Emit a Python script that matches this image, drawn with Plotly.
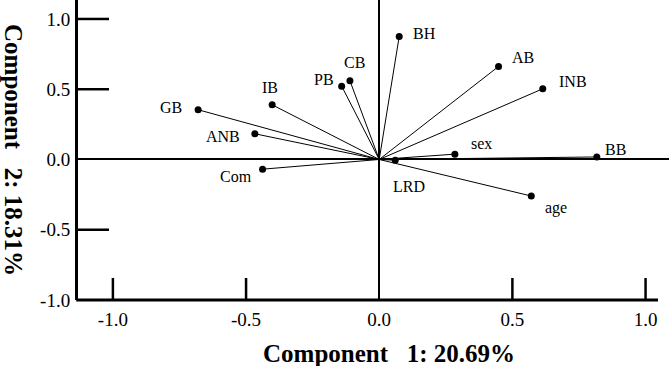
import plotly.graph_objects as go

# Loadings
variables = ["GB", "IB", "ANB", "Com", "PB", "CB", "BH", "AB", "INB", "sex", "BB", "LRD", "age"]
comp1 = [-0.680, -0.402, -0.467, -0.438, -0.141, -0.110, 0.075, 0.448, 0.614, 0.284, 0.817, 0.060, 0.571]
comp2 = [0.354, 0.389, 0.183, -0.069, 0.522, 0.560, 0.875, 0.662, 0.503, 0.038, 0.018, -0.005, -0.260]

# label offsets in pixels (style only)
label_dx = [-27, -2, -32, -27, -18, 5, 25, 24, 30, 27, 19, 14, 25]
label_dy = [-2, -17, 3, 7, -7, -18, -3, -9, -7, -11, -7, 26, 12]

tick_vals = [-1.0, -0.5, 0.0, 0.5, 1.0]
tick_text = ["-1.0", "-0.5", "0.0", "0.5", "1.0"]
x_title = "Component   1: 20.69%"
y_title = "Component   2: 18.31%"

SERIF = "Liberation Serif, Times New Roman, serif"

W, H = 669, 366
ML, MR, MT, MB = 78, 0, 0, 66
PW, PH = W - ML - MR, H - MT - MB

line_x, line_y = [], []
for a, b in zip(comp1, comp2):
    line_x += [0, a, None]
    line_y += [0, b, None]

fig = go.Figure()
fig.add_trace(go.Scatter(x=line_x, y=line_y, mode="lines",
                         line=dict(color="black", width=1), hoverinfo="skip", showlegend=False))
fig.add_trace(go.Scatter(x=comp1, y=comp2, mode="markers",
                         marker=dict(color="black", size=7), showlegend=False))

annotations = []
for name, a, b, dx, dy in zip(variables, comp1, comp2, label_dx, label_dy):
    annotations.append(dict(x=a, y=b, xref="x", yref="y", text=name, showarrow=False,
                            xshift=dx, yshift=-dy, xanchor="center", yanchor="middle",
                            font=dict(family=SERIF, size=16, color="black")))

annotations.append(dict(xref="paper", yref="paper", x=(389 - ML) / PW, y=(H - MB - 353) / PH,
                        xanchor="center", yanchor="middle", text="<b>" + x_title + "</b>",
                        showarrow=False, font=dict(family=SERIF, size=25, color="black")))
annotations.append(dict(xref="paper", yref="paper", x=(14 - ML) / PW, y=(H - MB - 150) / PH,
                        xanchor="center", yanchor="middle", text="<b>" + y_title + "</b>",
                        textangle=90, showarrow=False,
                        font=dict(family=SERIF, size=25, color="black")))

shapes = []
# bottom axis line
shapes.append(dict(type="line", xref="paper", yref="paper", x0=-0.003, x1=(658 - ML) / PW, y0=0, y1=0,
                   line=dict(color="black", width=3)))
# x tick marks (inside, upward)
for v in tick_vals:
    if v != 0:
        shapes.append(dict(type="line", xref="x", yref="paper", x0=v, x1=v, y0=0, y1=22 / PH,
                           line=dict(color="black", width=2.5)))
# y tick marks (inside, rightward)
for v in tick_vals:
    if v not in (0, -1.0):
        shapes.append(dict(type="line", xref="paper", yref="y", x0=0, x1=31 / PW, y0=v, y1=v,
                           line=dict(color="black", width=2.5)))

fig.update_layout(
    width=W, height=H,
    margin=dict(l=ML, r=MR, t=MT, b=MB, pad=0),
    paper_bgcolor="white", plot_bgcolor="white",
    annotations=annotations, shapes=shapes,
    xaxis=dict(range=[-1.131, 1.088], tickvals=tick_vals, ticktext=tick_text, ticks="",
               showgrid=False, zeroline=True, zerolinecolor="black", zerolinewidth=2,
               showline=False, ticklabelstandoff=6,
               tickfont=dict(family=SERIF, size=19, color="black")),
    yaxis=dict(range=[-1.0, 1.135], tickvals=tick_vals, ticktext=tick_text, ticks="",
               showgrid=False, zeroline=True, zerolinecolor="black", zerolinewidth=1.5,
               showline=True, linecolor="black", linewidth=3, ticklabelstandoff=1,
               tickfont=dict(family=SERIF, size=19, color="black")),
    showlegend=False,
)

fig.write_html("out.html",
               config={"displayModeBar": False},
               post_script="document.body.style.margin='0';document.body.style.padding='0';"
                           "document.documentElement.style.overflow='hidden';")
